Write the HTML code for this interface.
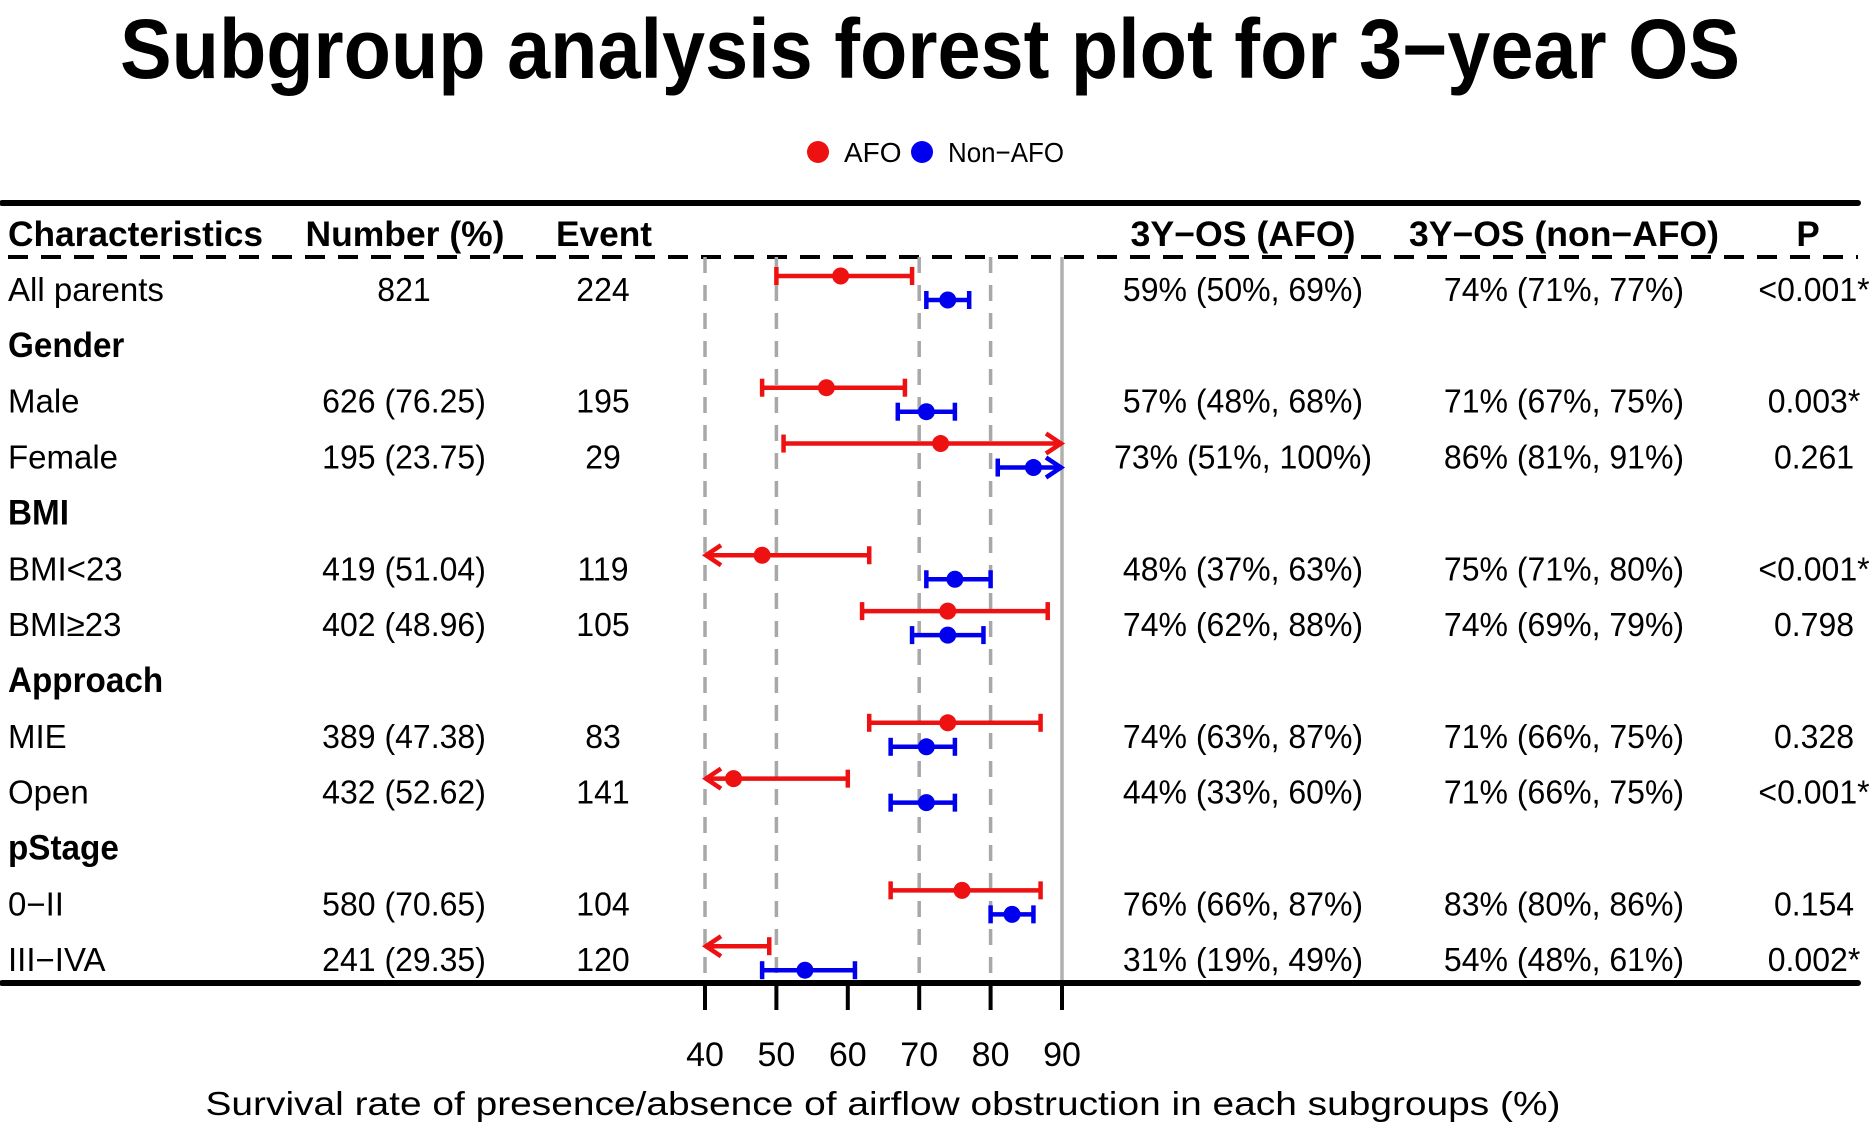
<!DOCTYPE html>
<html><head><meta charset="utf-8"><style>
html,body{margin:0;padding:0;background:#fff;}
svg{display:block;font-family:"Liberation Sans",Arial,sans-serif;}
</style></head><body>
<svg id="chart" width="1875" height="1135" viewBox="0 0 1875 1135">
<text x="930" y="78" font-size="84" font-weight="bold" text-anchor="middle" textLength="1620" lengthAdjust="spacingAndGlyphs">Subgroup analysis forest plot for 3−year OS</text>
<g>
<circle cx="818" cy="152" r="11" fill="#ee1111"/>
<text x="844" y="162" font-size="28">AFO</text>
<circle cx="922" cy="152" r="11" fill="#0000ee"/>
<text x="948" y="162" font-size="28" textLength="116" lengthAdjust="spacingAndGlyphs">Non−AFO</text>
</g>
<line x1="2" y1="203" x2="1858" y2="203" stroke="#000" stroke-width="6" stroke-linecap="round"/>
<line x1="8" y1="257" x2="1858" y2="257" stroke="#000" stroke-width="4" stroke-dasharray="20 13"/>
<g font-size="35" font-weight="bold">
<text x="8" y="246" textLength="255" lengthAdjust="spacingAndGlyphs">Characteristics</text>
<text x="405" y="246" text-anchor="middle" textLength="199" lengthAdjust="spacingAndGlyphs">Number (%)</text>
<text x="604" y="246" text-anchor="middle" textLength="96" lengthAdjust="spacingAndGlyphs">Event</text>
<text x="1243" y="246" text-anchor="middle" textLength="225" lengthAdjust="spacingAndGlyphs">3Y−OS (AFO)</text>
<text x="1564" y="246" text-anchor="middle" textLength="310" lengthAdjust="spacingAndGlyphs">3Y−OS (non−AFO)</text>
<text x="1808" y="246" text-anchor="middle">P</text>
</g>
<g id="grid"></g>
<g id="rows"></g>
<g id="marks"></g>
<line x1="2" y1="983" x2="1858" y2="983" stroke="#000" stroke-width="6" stroke-linecap="round"/>
<g id="axis"></g>
<text x="883" y="1115" font-size="33" text-anchor="middle" textLength="1355" lengthAdjust="spacingAndGlyphs">Survival rate of presence/absence of airflow obstruction in each subgroups (%)</text>
</svg>
<script>
const labels = ["All parents","Gender","Male","Female","BMI","BMI<23","BMI≥23","Approach","MIE","Open","pStage","0−II","III−IVA"];
const isGroup = [false,true,false,false,true,false,false,true,false,false,true,false,false];
const numbers = ["821","","626 (76.25)","195 (23.75)","","419 (51.04)","402 (48.96)","","389 (47.38)","432 (52.62)","","580 (70.65)","241 (29.35)"];
const events = ["224","","195","29","","119","105","","83","141","","104","120"];
const afoEst = [59,null,57,73,null,48,74,null,74,44,null,76,31];
const afoLo  = [50,null,48,51,null,37,62,null,63,33,null,66,19];
const afoHi  = [69,null,68,100,null,63,88,null,87,60,null,87,49];
const nonEst = [74,null,71,86,null,75,74,null,71,71,null,83,54];
const nonLo  = [71,null,67,81,null,71,69,null,66,66,null,80,48];
const nonHi  = [77,null,75,91,null,80,79,null,75,75,null,86,61];
const pvals = ["<0.001*","","0.003*","0.261","","<0.001*","0.798","","0.328","<0.001*","","0.154","0.002*"];
const ticks = [40,50,60,70,80,90];
const gridVals = [40,50,70,80];

const NS="http://www.w3.org/2000/svg";
const X0=40,X1=90,PX0=705,PX1=1062;
function xs(v){return PX0+(v-X0)*(PX1-PX0)/(X1-X0);}
function ys(i){return 289+i*55.85;}
function mk(tag,attrs,parent){const e=document.createElementNS(NS,tag);for(const k in attrs)e.setAttribute(k,attrs[k]);parent.appendChild(e);return e;}
const grid=document.getElementById('grid'),rows=document.getElementById('rows'),marks=document.getElementById('marks'),axis=document.getElementById('axis');
gridVals.forEach(v=>{
  const l=mk('line',{x1:xs(v),x2:xs(v),y1:257,y2:983,stroke:'#a8a8a8','stroke-width':3.5,'stroke-dasharray':'16 12'},grid);
  
  
});
const ref=mk('line',{x1:xs(90),x2:xs(90),y1:257,y2:983,stroke:'#b0b0b0','stroke-width':3.5},grid);



function txt(parent,x,y,s,anchor,bold,sx,fs){
  const g=mk('g',{transform:`translate(${x},${y}) scale(${sx},1)`},parent);
  const t=mk('text',{x:0,y:0,'font-size':fs,'text-anchor':anchor,'font-weight':bold?'bold':'normal'},g);
  t.textContent=s;return t;
}
labels.forEach((lab,i)=>{
  const y=ys(i)+12;
  const t1=txt(rows,8,y,lab,'start',isGroup[i],isGroup[i]?0.95:1.0,isGroup[i]?35:33);
  
  
  if(isGroup[i])return;
  const sx=0.97,fs=33;
  const t2=txt(rows,404,y,numbers[i],'middle',false,sx,fs);
  
  
  const t3=txt(rows,603,y,events[i],'middle',false,sx,fs);
  
  
  const t4=txt(rows,1243,y,`${afoEst[i]}% (${afoLo[i]}%, ${afoHi[i]}%)`,'middle',false,sx,fs);
  
  
  const t5=txt(rows,1564,y,`${nonEst[i]}% (${nonLo[i]}%, ${nonHi[i]}%)`,'middle',false,sx,fs);
  
  
  const t6=txt(rows,1814,y,pvals[i],'middle',false,sx,fs);
  
  
});

function ci(i,est,lo,hi,dy,color,name){
  if(est===null)return;
  const y=ys(i)+dy;
  const g=mk('g',{stroke:color,'stroke-width':4.5,fill:'none'},marks);
  
  
  const l=Math.max(lo,X0),h=Math.min(hi,X1);
  const a=xs(l),b=xs(h);
  mk('line',{x1:a,x2:b,y1:y,y2:y},g);
  if(lo<X0) mk('polyline',{points:`${a+16},${y-10} ${a+1},${y} ${a+16},${y+10}`},g);
  else mk('line',{x1:a,x2:a,y1:y-9,y2:y+9},g);
  if(hi>X1) mk('polyline',{points:`${b-16},${y-10} ${b-1},${y} ${b-16},${y+10}`},g);
  else mk('line',{x1:b,x2:b,y1:y-9,y2:y+9},g);
  if(est>=X0&&est<=X1) mk('circle',{cx:xs(est),cy:y,r:8.5,fill:color,stroke:'none'},g);
}
labels.forEach((_,i)=>{
  ci(i,afoEst[i],afoLo[i],afoHi[i],-13,'#ee1111','afo-ci');
  ci(i,nonEst[i],nonLo[i],nonHi[i],11,'#0000ee','non-afo-ci');
});
ticks.forEach(v=>{
  const t=mk('line',{x1:xs(v),x2:xs(v),y1:983,y2:1010,stroke:'#000','stroke-width':4},axis);
  
  
  const lab=mk('text',{x:xs(v),y:1066,'font-size':34,'text-anchor':'middle'},axis);
  lab.textContent=v;
  
  
});
</script>
</body></html>
